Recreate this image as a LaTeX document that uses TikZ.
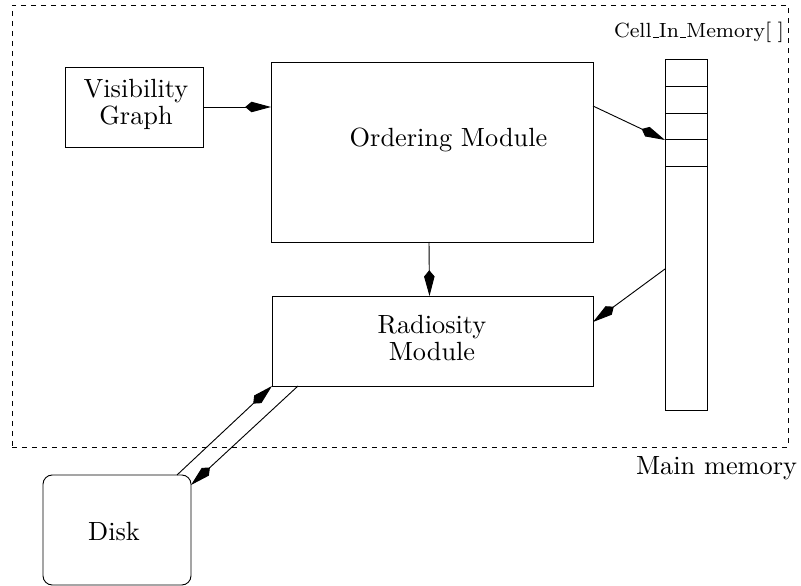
\documentclass[tikz,border=0pt]{standalone}
\usetikzlibrary{arrows.meta,fit,calc}
\newcommand\cellusc{\leavevmode\kern.06em\vbox{\hrule width.3em height 0.4pt}}
\begin{document}
\begin{tikzpicture}[x=0.38pt,y=-0.38pt,
  box/.style={draw,line width=0.35pt,inner sep=0pt,outer sep=0pt},
  memline/.style={draw,line width=0.35pt,dash pattern=on 1.9pt off 1.9pt,inner sep=0pt,outer sep=0pt},
  cellline/.style={line width=0.35pt},
  conn/.style={line width=0.35pt,-{Kite[length=9.8pt,width=4pt,inset=2.4pt]}},
  lbl/.style={inner sep=0pt,outer sep=0pt,align=center,font=\normalsize}]
\useasboundingbox (0,0) rectangle (801,586);
% boxes
\node[memline,fit={(12,5)(788,447)}] (mem) {};
\node[box,fit={(65,67)(203,147)}] (vg) {};
\node[box,fit={(271,62)(593,242)}] (om) {};
\node[box,fit={(272,296)(593,386)}] (rm) {};
\node[box,fit={(665,59)(707,410)}] (arr) {};
\node[box,rounded corners=3.5pt,fit={(43,475)(191,585)}] (disk) {};
% array cells
\foreach \yy in {86,113,139,166}
  \draw[cellline] (665,\yy) -- (707,\yy);
% labels
\node[lbl,anchor=north] (vgt) at (136,79.4) {Visibility\\[-1.7pt]Graph};
\node[lbl,anchor=base] (omt) at (448.5,147) {Ordering Module};
\node[lbl,anchor=north] (rmt) at (432,315) {Radiosity\\[-1.5pt]Module};
\node[lbl,anchor=base] (diskt) at (114,541) {Disk};
\node[lbl,anchor=base east] (memt) at (797,475) {Main memory};
\node[lbl,anchor=base east,font=\fontsize{7.8}{9}\selectfont] (arrt) at (784,38) {Cell\cellusc In\cellusc Memory[\,\,]};
% connectors
\draw[conn] (vg.east) -- (om.west |- vg.east);
\draw[conn] ($(om.north east)+(0,44)$) -- ($(arr.north west)+(0,81)$);
\draw[conn] ($(om.south)+(-3,0)$) -- ($(rm.north)+(-3,0)$);
\draw[conn] ($(arr.north west)+(0,210)$) -- ($(rm.north east)+(0,26)$);
\draw[conn] ($(disk.north east)+(-14,0)$) -- (rm.south west);
\draw[conn] ($(rm.south west)+(26,0)$) -- ($(disk.north east)+(0,10)$);
\end{tikzpicture}
\end{document}
